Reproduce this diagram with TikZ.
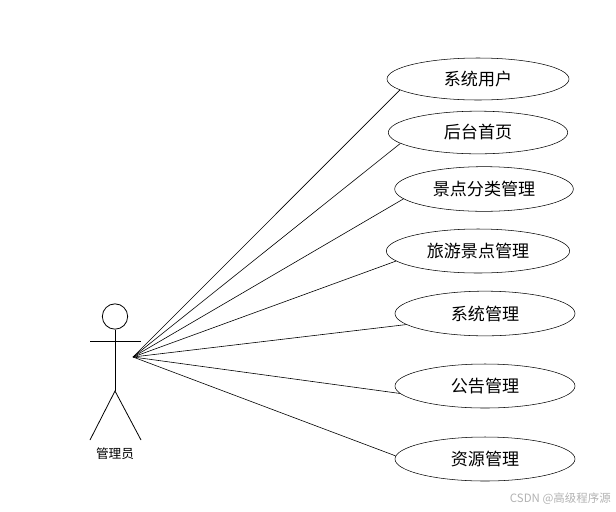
\documentclass[tikz,border=0pt]{standalone}
\usepackage{fontspec}
\setmainfont{Noto Sans CJK SC}
\usetikzlibrary{shapes.geometric}

\tikzset{
    usecase/.style={draw, ellipse, inner sep=0pt, font=\fontsize{12.8}{14}\selectfont},
    link/.style={draw, line width=0.45pt},
    actorline/.style={draw, line width=0.6pt},
}

\begin{document}
\begin{tikzpicture}[x=0.75pt, y=-0.75pt]
    \useasboundingbox (0,0) rectangle (616,511);

    % 参与者
    \coordinate(hub)at(133,357);
    \coordinate(hip)at(115,391);
    \coordinate(armL)at(90,341);
    \coordinate(armR)at(141,341);
    \coordinate(footL)at(90,440);
    \coordinate(footR)at(141,440);
    \node[circle, actorline, minimum size=19pt, inner sep=0pt](head)at(115,316.5){};
    \path[actorline](head.south)to(hip);
    \path[actorline](armL)to(armR);
    \path[actorline](footL)to(hip)to(footR);
    \node[font=\fontsize{9.5}{11}\selectfont](actor)at(115,453.5){管理员};

    % 用例
    \node[usecase, minimum width=136.5pt, minimum height=31.5pt](user)at(478,79){系统用户};
    \node[usecase, minimum width=134.5pt, minimum height=32pt](home)at(478,132.5){后台首页};
    \node[usecase, minimum width=134pt, minimum height=33.5pt](sort)at(484,189){景点分类管理};
    \node[usecase, minimum width=137.5pt, minimum height=33pt](spot)at(478,251){旅游景点管理};
    \node[usecase, minimum width=135pt, minimum height=33.5pt](sys)at(485,313.5){系统管理};
    \node[usecase, minimum width=135pt, minimum height=33pt](note)at(485,386){公告管理};
    \node[usecase, minimum width=135pt, minimum height=33pt](res)at(485,459){资源管理};

    % 连线
    \path[link](hub)to(user.188.7);
    \path[link](hub)to(home.188.5);
    \path[link](hub)to(sort.187);
    \path[link](hub)to(spot.187);
    \path[link](hub)to(sys.188.7);
    \path[link](hub)to(note.185.4);
    \path[link](hub)to(res.178.7);

    % 水印
    \node[anchor=east, inner sep=0pt, text=black!30, font=\fontsize{8.6}{10}\selectfont](mark)at(611,499){CSDN @高级程序源};
\end{tikzpicture}
\end{document}
